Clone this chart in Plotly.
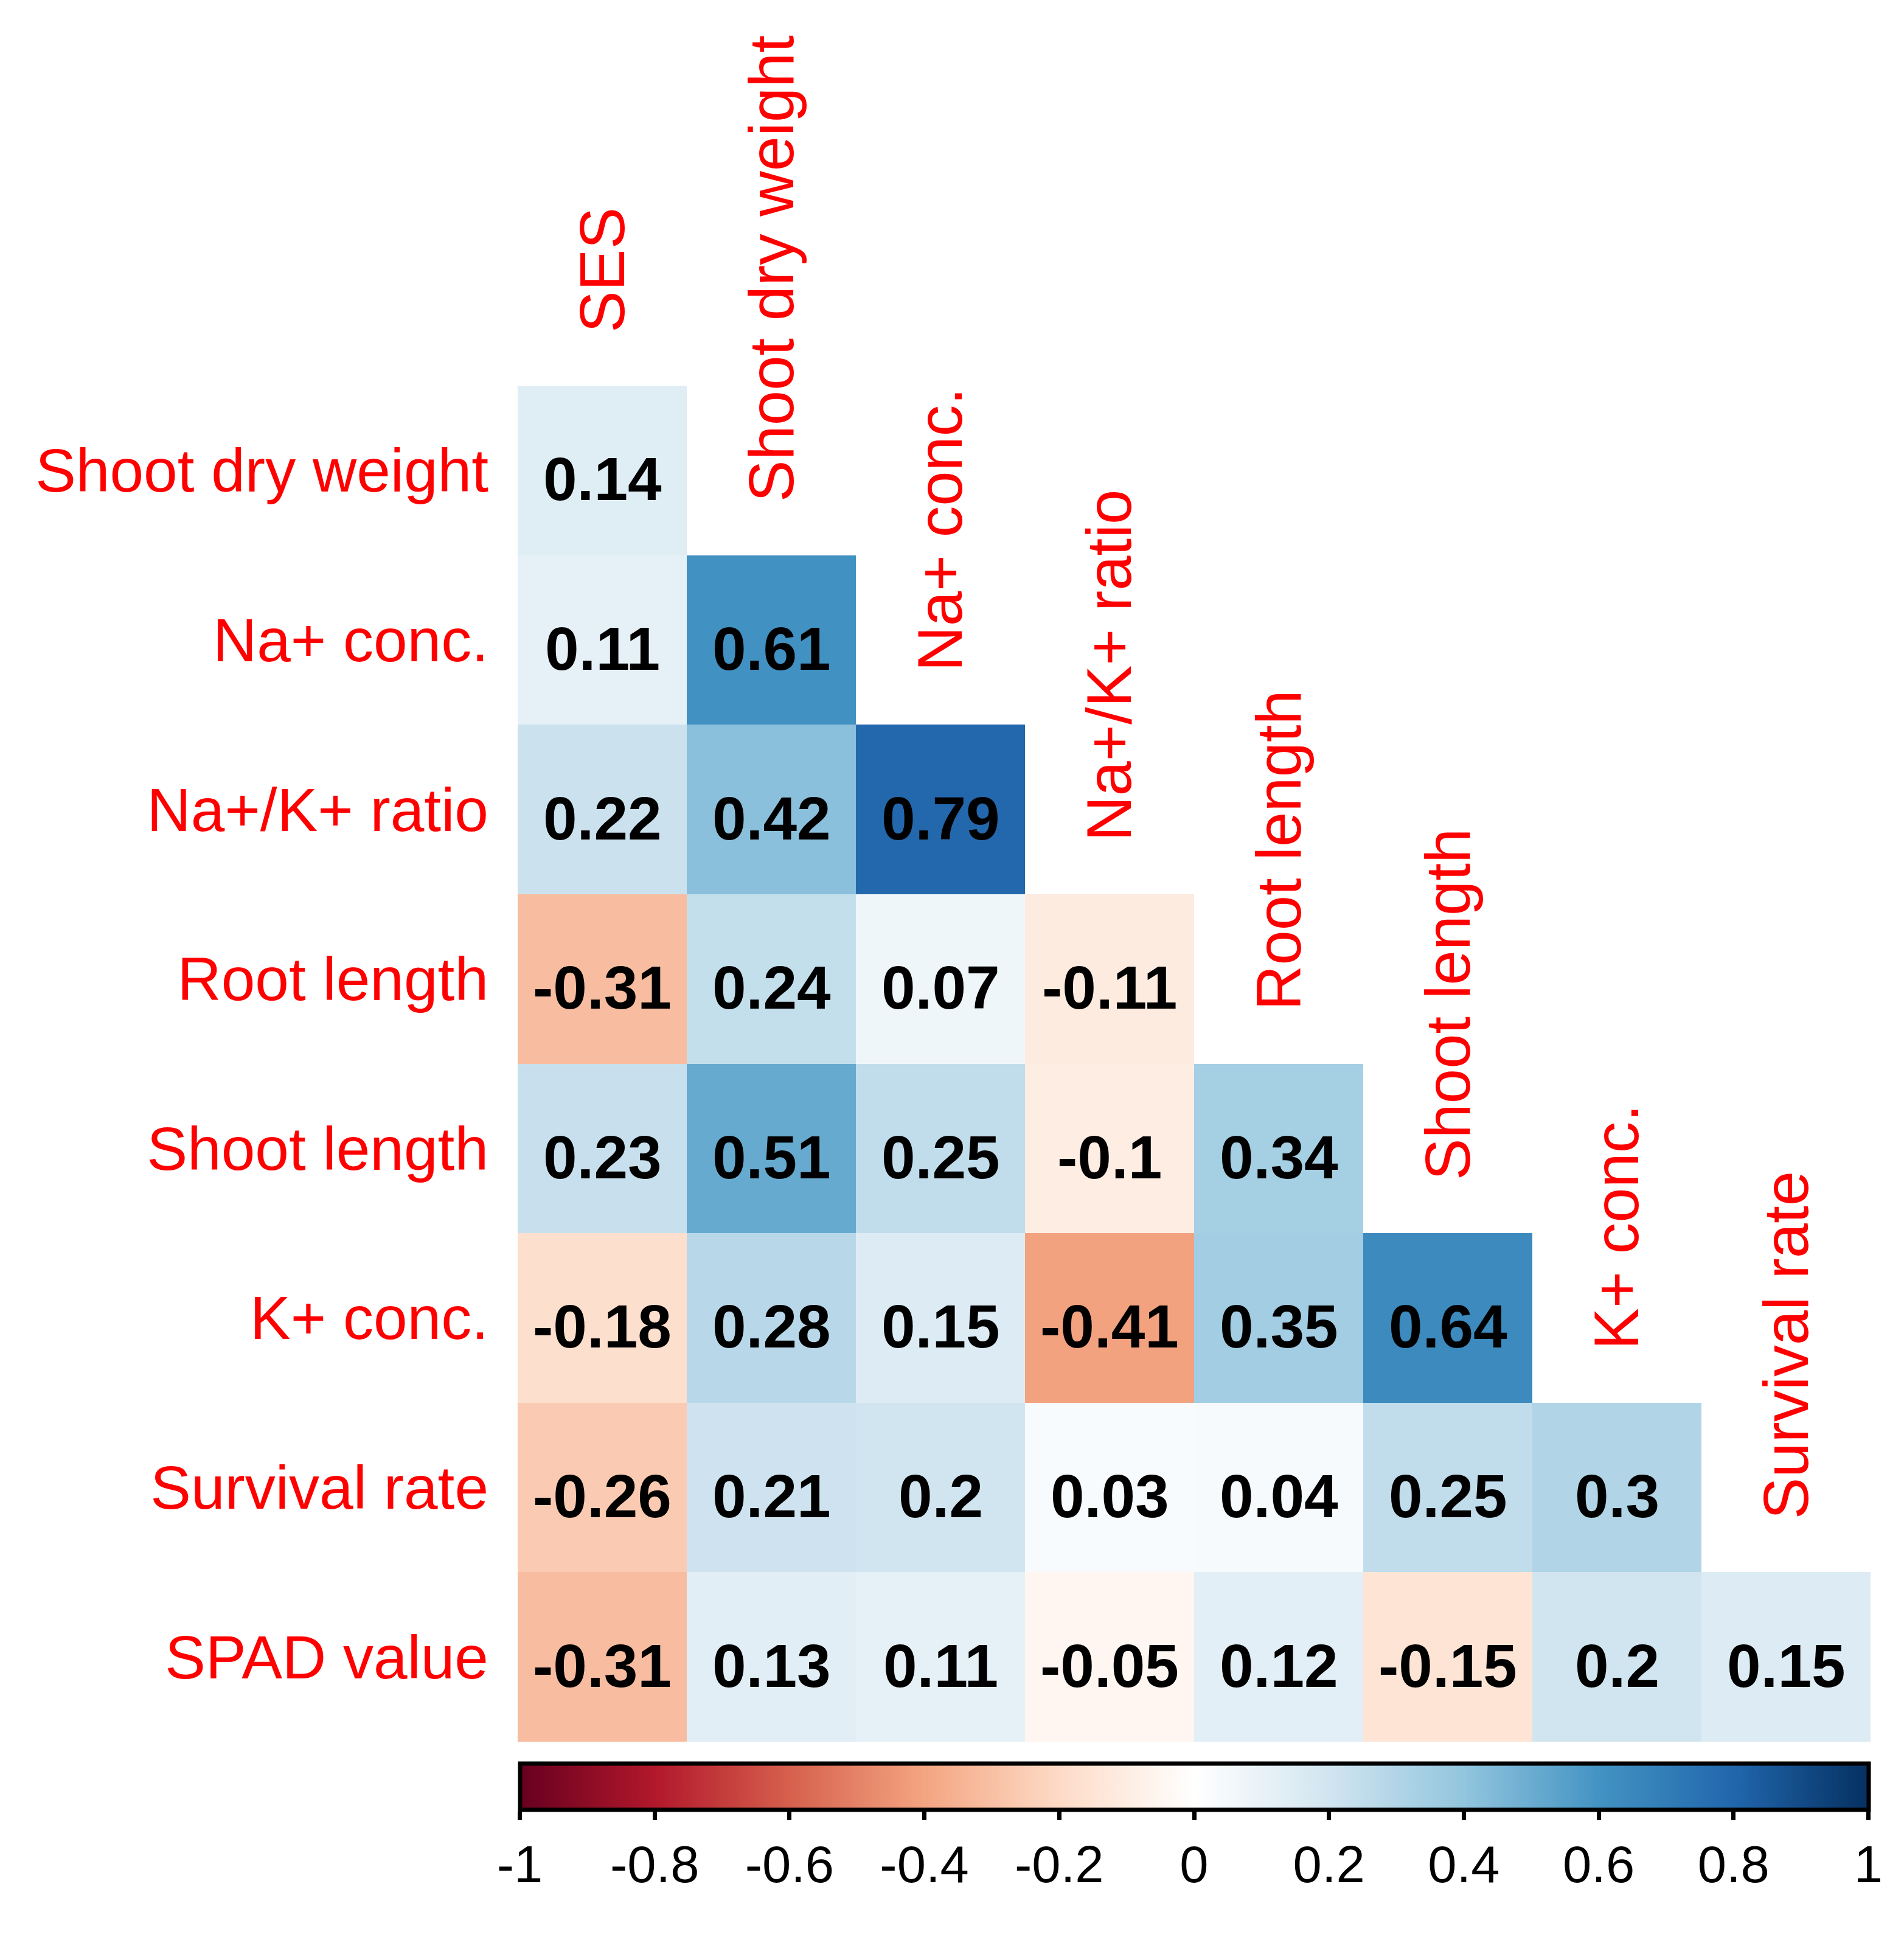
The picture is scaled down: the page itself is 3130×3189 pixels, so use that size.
import plotly.graph_objects as go

# variables in the correlation matrix (lower triangle, diagonal dropped)
col_names = ["SES", "Shoot dry weight", "Na+ conc.", "Na+/K+ ratio",
             "Root length", "Shoot length", "K+ conc.", "Survival rate"]
row_names = ["Shoot dry weight", "Na+ conc.", "Na+/K+ ratio", "Root length",
             "Shoot length", "K+ conc.", "Survival rate", "SPAD value"]

# correlation coefficients, one list per row
r_shoot_dry_weight = [0.14]
r_na_conc = [0.11, 0.61]
r_na_k_ratio = [0.22, 0.42, 0.79]
r_root_length = [-0.31, 0.24, 0.07, -0.11]
r_shoot_length = [0.23, 0.51, 0.25, -0.1, 0.34]
r_k_conc = [-0.18, 0.28, 0.15, -0.41, 0.35, 0.64]
r_survival_rate = [-0.26, 0.21, 0.2, 0.03, 0.04, 0.25, 0.3]
r_spad_value = [-0.31, 0.13, 0.11, -0.05, 0.12, -0.15, 0.2, 0.15]

rows = [r_shoot_dry_weight, r_na_conc, r_na_k_ratio, r_root_length,
        r_shoot_length, r_k_conc, r_survival_rate, r_spad_value]

cbar_ticks = [-1, -0.8, -0.6, -0.4, -0.2, 0, 0.2, 0.4, 0.6, 0.8, 1]
cbar_labels = ["-1", "-0.8", "-0.6", "-0.4", "-0.2", "0",
               "0.2", "0.4", "0.6", "0.8", "1"]

# corrplot style RdBu palette (white centre)
rdbu = ["#67001F", "#B2182B", "#D6604D", "#F4A582", "#FDDBC7", "#FFFFFF",
        "#D1E5F0", "#92C5DE", "#4393C3", "#2166AC", "#053061"]
colorscale = [[i / (len(rdbu) - 1), c] for i, c in enumerate(rdbu)]

n = len(col_names)
z = [r + [None] * (n - len(r)) for r in rows]

FONT = "Arial, Liberation Sans, sans-serif"
W, H = 3130, 3189
ML, MR, MT, MB = 843, 63, 626, 334
plot_w = W - ML - MR
plot_h = H - MT - MB

fig = go.Figure()
fig.add_trace(go.Heatmap(
    z=z, x=list(range(n)), y=list(range(n)),
    colorscale=colorscale, zmin=-1, zmax=1,
    hoverinfo="skip",
    colorbar=dict(
        orientation="h",
        x=0.5, xanchor="center", lenmode="pixels", len=plot_w - 7,
        y=-35.5 / plot_h, yanchor="top",
        thickness=76, xpad=0, ypad=0,
        outlinecolor="black", outlinewidth=7,
        tickvals=cbar_ticks, ticktext=cbar_labels,
        ticks="outside", ticklen=14, tickwidth=7, tickcolor="black",
        tickfont=dict(family=FONT, size=85, color="black"),
    ),
))

# coefficient labels in each cell
for i, r in enumerate(rows):
    for j, v in enumerate(r):
        fig.add_annotation(
            x=j, y=i, xref="x", yref="y", text=f"<b>{v:g}</b>",
            showarrow=False, yshift=-14,
            font=dict(family=FONT, size=100, color="black"),
        )

# column labels sit vertically above the first cell of each column
for j, name in enumerate(col_names):
    fig.add_annotation(
        x=j, y=j - 0.5, xref="x", yref="y",
        text=name, textangle=-90, showarrow=False,
        xanchor="center", yanchor="bottom", yshift=85,
        font=dict(family=FONT, size=103, color="#FF0000"),
    )

fig.update_layout(
    width=W, height=H,
    margin=dict(l=ML, r=MR, t=MT, b=MB),
    plot_bgcolor="white", paper_bgcolor="white",
    xaxis=dict(range=[-0.5, n - 0.5], showticklabels=False, showgrid=False,
               zeroline=False, showline=False, ticks=""),
    yaxis=dict(range=[n - 0.5, -0.5], tickvals=list(range(n)),
               ticktext=row_names, showgrid=False, zeroline=False,
               showline=False, ticks="", ticklabelstandoff=47,
               tickfont=dict(family=FONT, size=100, color="#FF0000")),
)

fig.write_html("out.html")
